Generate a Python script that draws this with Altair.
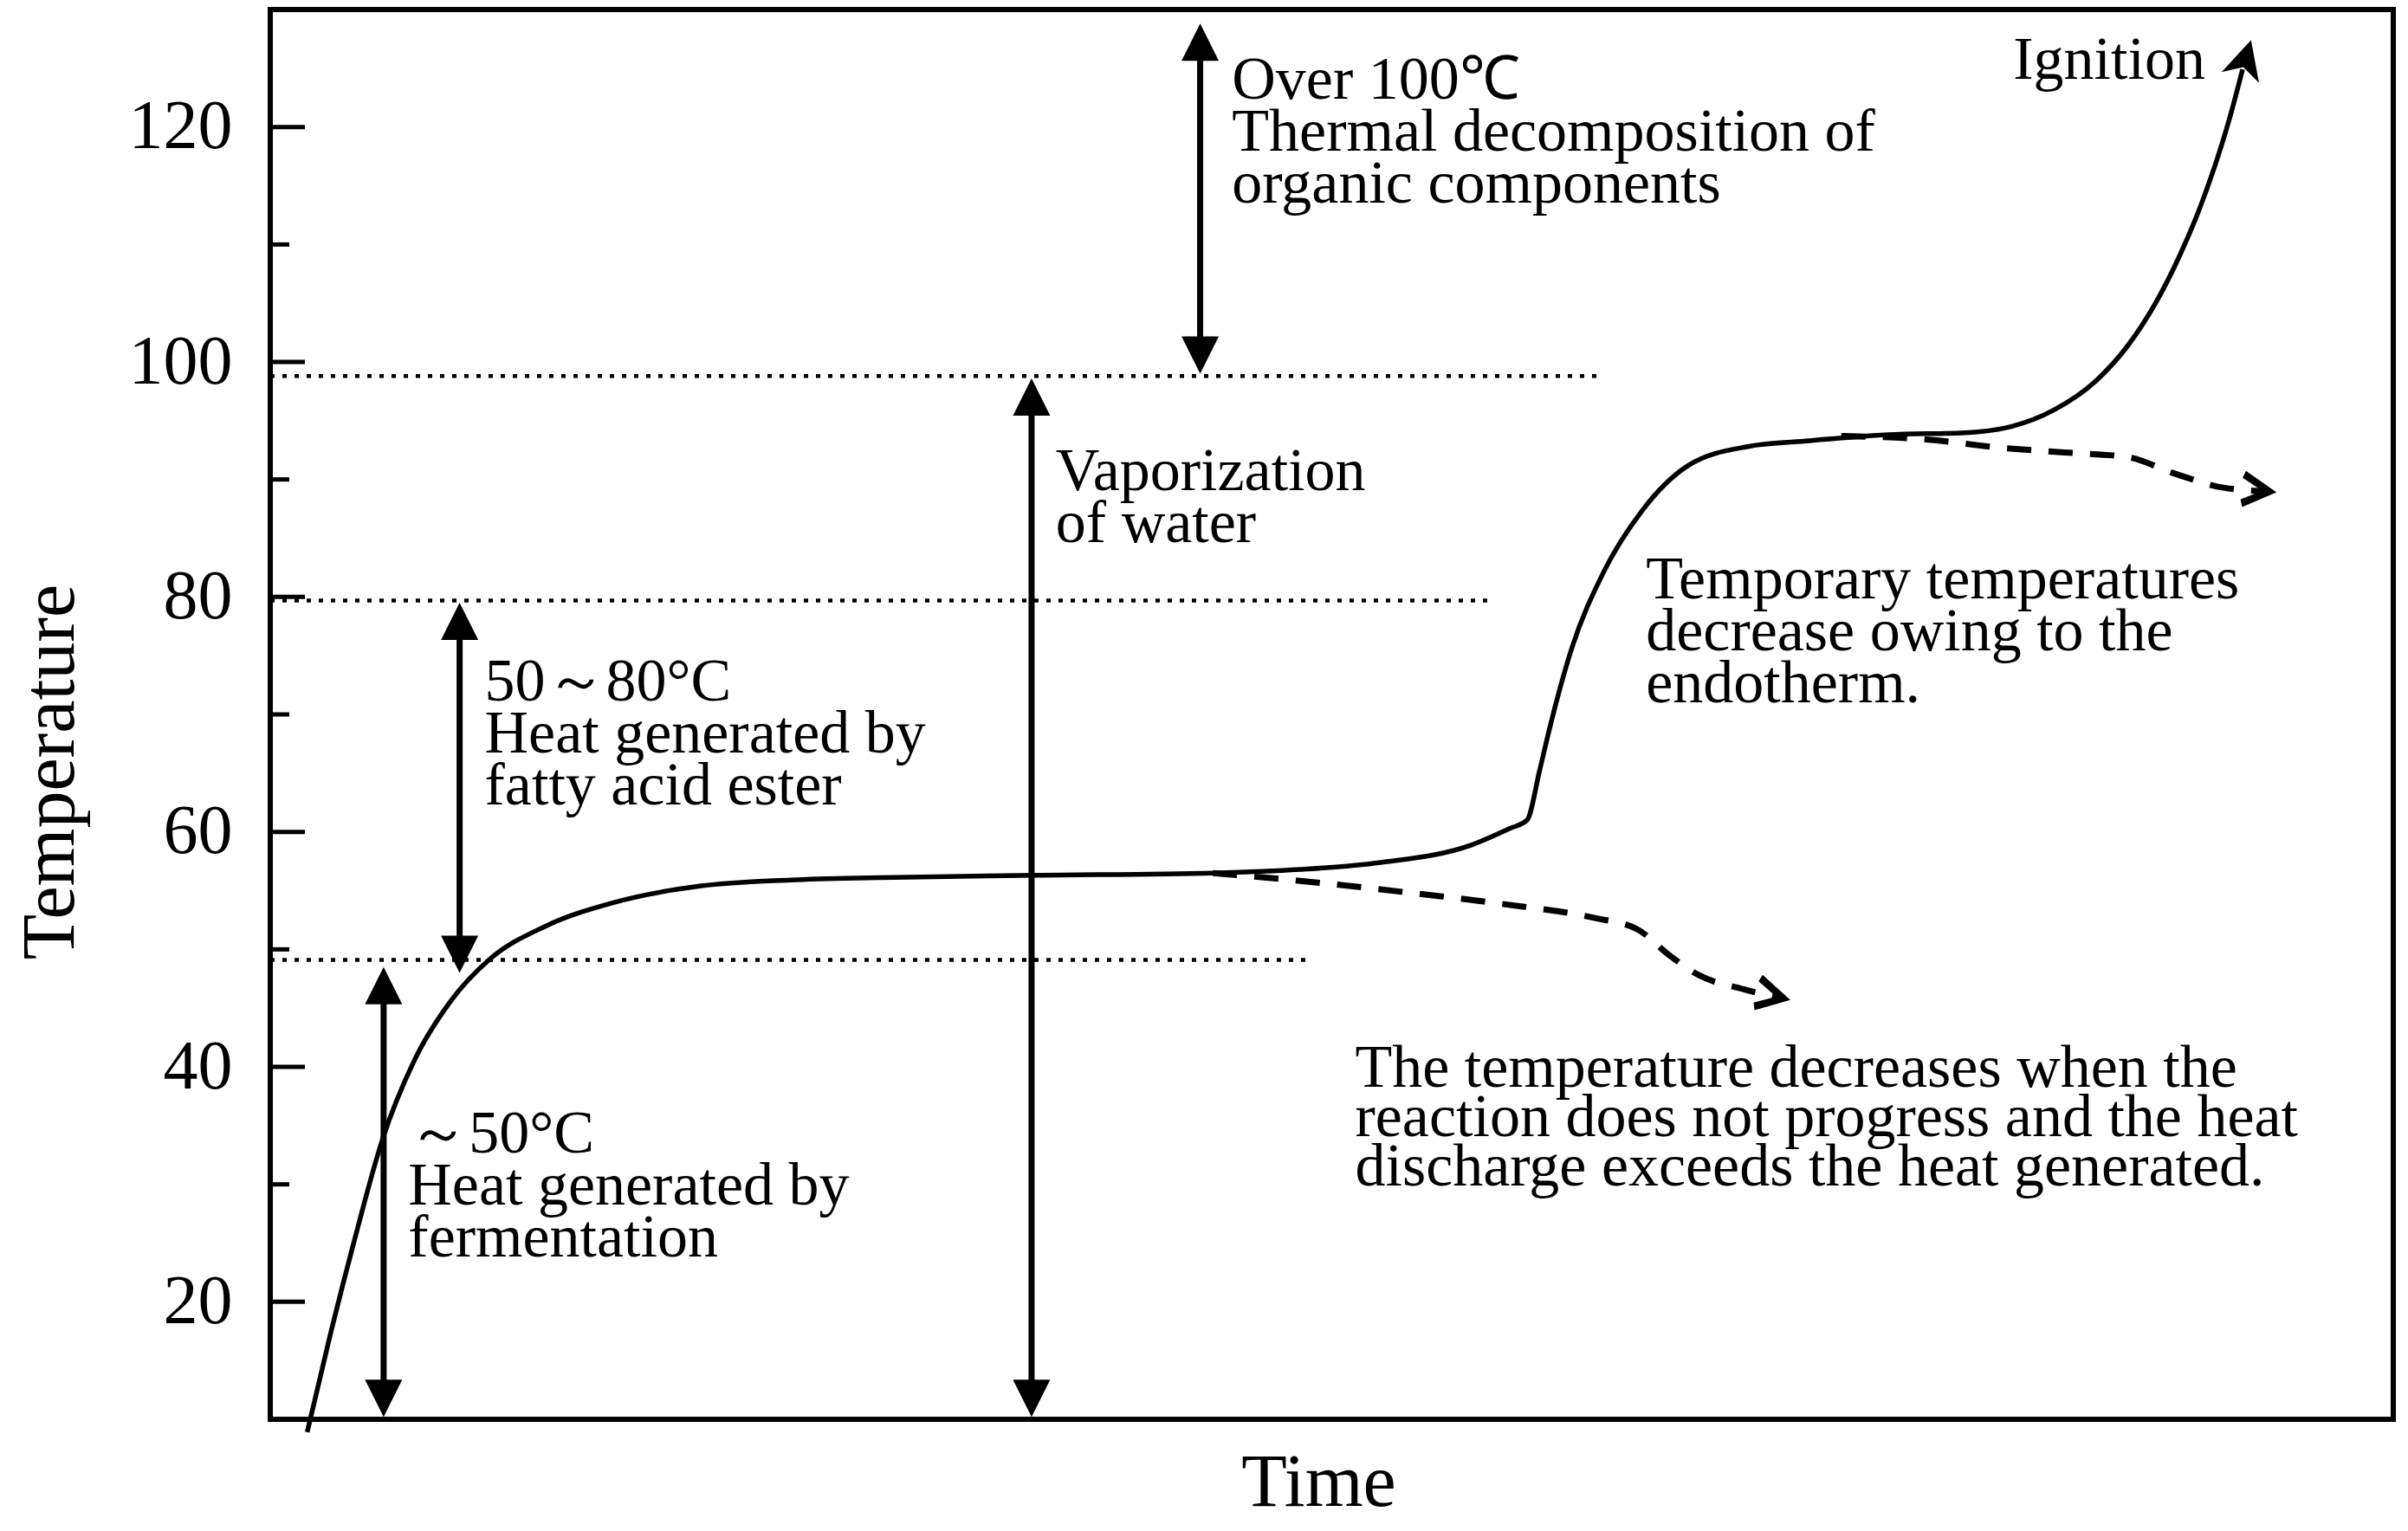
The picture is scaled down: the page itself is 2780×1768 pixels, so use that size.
import altair as alt
import pandas as pd

# ---------------- data ----------------
y_ticks_major = [20, 40, 60, 80, 100, 120]
y_ticks_minor = [30, 50, 70, 90, 110]

# main solid curve (time in arbitrary units 0-100, temperature)
main_t = [1.74, 2.8, 3.9, 5.3, 6.8, 8.5, 10.3, 13.0, 16.2, 20.3, 24.5, 28.6,
          36.0, 44.4, 48.5, 52.3, 56.6, 58.4, 59.2, 59.8, 60.3, 61.3, 62.8, 64.6,
          66.8, 69.6, 72.5, 76.2, 80.0, 82.0, 84.0, 86.0, 87.5, 88.8, 89.9, 90.8,
          91.6, 92.3, 92.9]
main_v = [8.9, 17.0, 24.8, 33.9, 40.6, 45.6, 49.1, 52.0, 54.0, 55.4, 55.9, 56.1,
          56.3, 56.5, 56.8, 57.4, 58.9, 60.3, 61.0, 65.3, 69.1, 75.6, 82.1, 87.3,
          91.2, 92.8, 93.3, 93.8, 94.0, 94.5, 95.9, 98.4, 101.4, 105.0, 108.9, 112.7,
          116.7, 120.8, 124.9]

# lower dashed branch
low_t = [44.4, 48.7, 53.3, 57.9, 62.3, 64.4, 65.9, 67.3, 69.4, 71.0]
low_v = [56.5, 55.8, 54.9, 53.9, 52.7, 51.7, 49.5, 47.8, 46.6, 45.9]

# upper dashed branch
up_t = [74.0, 78.0, 81.5, 84.5, 87.5, 89.7, 92.0, 94.0]
up_v = [93.7, 93.4, 92.7, 92.3, 91.9, 90.5, 89.3, 89.0]

# dotted reference levels
dotted_level = [98.8, 79.7, 49.1]
dotted_start = [0.0, 0.0, 0.0]
dotted_end = [62.7, 57.5, 48.9]

# double-headed vertical arrows
arrow_t = [5.34, 8.92, 35.86, 43.8]
arrow_lo = [10.2, 48.0, 10.2, 99.0]
arrow_hi = [48.5, 79.5, 98.6, 128.8]

# heads at the ends of the curves
ign_t, ign_v, ign_angle = [93.3], [127.4], [16]
chev_t, chev_v, chev_angle = [71.6, 94.5], [45.7, 88.9], [103, 96]

# annotations
ann_t = [45.3, 82.1, 37.0, 10.1, 6.5, 64.8]
ann_v = [122.4, 124.1, 89.1, 71.2, 32.7, 79.9]
ann_text = [
    ["Over 100\u2103", "Thermal decomposition of", "organic components"],
    ["Ignition"],
    ["Vaporization", "of water"],
    ["50\uff5e80\u00b0C", "Heat generated by", "fatty acid ester"],
    ["\uff5e50\u00b0C", "Heat generated by", "fermentation"],
    ["Temporary temperatures", "\u2009decrease owing to the", "\u2009endotherm."],
]
ann2_t = [51.1]
ann2_v = [38.3]
ann2_text = [["The temperature decreases when the",
              "reaction does not progress  and the heat",
              "discharge exceeds the heat generated."]]

# ---------------- chart ----------------
FONT = "Liberation Serif"
xs = alt.Scale(domain=[0, 100], nice=False, zero=False)
ys = alt.Scale(domain=[10, 130], nice=False, zero=False)

X_AXIS = alt.Axis(
    title="Time", labels=False, ticks=False, domain=False, grid=False,
    titleFont=FONT, titleFontSize=86, titleFontWeight="normal", titleColor="black",
    titleX=1210, titleY=99, titleAlign="center", titleBaseline="alphabetic")
Y_AXIS = alt.Axis(
    title="Temperature", values=y_ticks_major, ticks=False, domain=False, grid=False,
    labelFont=FONT, labelFontSize=80, labelColor="black", labelPadding=44,
    titleFont=FONT, titleFontSize=86, titleFontWeight="normal", titleColor="black",
    titleAngle=270, titleX=-254, titleY=880, titleAlign="center", titleBaseline="middle")


def X(f="t"):
    return alt.X(f"{f}:Q", scale=xs, axis=X_AXIS)


def Y(f="v"):
    return alt.Y(f"{f}:Q", scale=ys, axis=Y_AXIS)


TRI = "M0,0 L0.5,1 L-0.5,1 Z"
DART = "M0,0 L0.5,1 L0,0.72 L-0.5,1 Z"
CHEV = "M0,0 L0.5,0.9 L0.3,0.97 L0,0.4 L-0.3,0.97 L-0.5,0.9 Z"

main = alt.Chart(pd.DataFrame({"t": main_t, "v": main_v})).mark_line(
    color="black", strokeWidth=5.5, interpolate="monotone"
).encode(x=X(), y=Y())

major = alt.Chart(pd.DataFrame({"v": y_ticks_major})).mark_rule(
    color="black", strokeWidth=5
).encode(y=Y(), x=alt.value(0), x2=alt.value(40))

minor = alt.Chart(pd.DataFrame({"v": y_ticks_minor})).mark_rule(
    color="black", strokeWidth=5
).encode(y=Y(), x=alt.value(0), x2=alt.value(22))

dotted = alt.Chart(pd.DataFrame({"v": dotted_level, "t0": dotted_start, "t1": dotted_end})).mark_rule(
    color="black", strokeWidth=4.5, strokeDash=[5, 9]
).encode(x=X("t0"), x2="t1:Q", y=Y())

low = alt.Chart(pd.DataFrame({"t": low_t, "v": low_v})).mark_line(
    color="black", strokeWidth=7, strokeDash=[28, 20], interpolate="monotone"
).encode(x=X(), y=Y())

up = alt.Chart(pd.DataFrame({"t": up_t, "v": up_v})).mark_line(
    color="black", strokeWidth=7, strokeDash=[28, 20], interpolate="monotone"
).encode(x=X(), y=Y())

shafts = alt.Chart(pd.DataFrame({"t": arrow_t, "lo": arrow_lo, "hi": arrow_hi})).mark_rule(
    color="black", strokeWidth=7, yOffset=-20, y2Offset=20
).encode(x=X(), y=Y("lo"), y2="hi:Q")

heads = alt.Chart(pd.DataFrame({
    "t": arrow_t + arrow_t,
    "v": arrow_hi + arrow_lo,
    "a": [0] * len(arrow_t) + [180] * len(arrow_t),
})).mark_point(shape=TRI, filled=True, size=7396, color="black", opacity=1, strokeWidth=0).encode(
    x=X(), y=Y(), angle=alt.Angle("a:Q", scale=None))

ign = alt.Chart(pd.DataFrame({"t": ign_t, "v": ign_v, "a": ign_angle})).mark_point(
    shape=DART, filled=True, size=8100, color="black", opacity=1, strokeWidth=0
).encode(x=X(), y=Y(), angle=alt.Angle("a:Q", scale=None))

chev = alt.Chart(pd.DataFrame({"t": chev_t, "v": chev_v, "a": chev_angle})).mark_point(
    shape=CHEV, filled=True, size=7000, color="black", opacity=1, strokeWidth=0
).encode(x=X(), y=Y(), angle=alt.Angle("a:Q", scale=None))

texts = alt.Chart(pd.DataFrame({"t": ann_t, "v": ann_v, "txt": ann_text})).mark_text(
    align="left", baseline="alphabetic", font=FONT, fontSize=70, lineHeight=60, color="black"
).encode(x=X(), y=Y(), text="txt")

texts2 = alt.Chart(pd.DataFrame({"t": ann2_t, "v": ann2_v, "txt": ann2_text})).mark_text(
    align="left", baseline="alphabetic", font=FONT, fontSize=70, lineHeight=57, color="black"
).encode(x=X(), y=Y(), text="txt")

chart = alt.layer(
    dotted, major, minor, shafts, heads, low, up, main, ign, chev, texts, texts2
).properties(
    width=2451, height=1628,
    autosize=alt.AutoSizeParams(type="none"),
    padding={"left": 304, "top": 3, "right": 3, "bottom": 117},
    background="white",
).configure_view(
    stroke="black", strokeWidth=6
)

chart.save("out.html", embed_options={"renderer": "svg", "actions": False})
